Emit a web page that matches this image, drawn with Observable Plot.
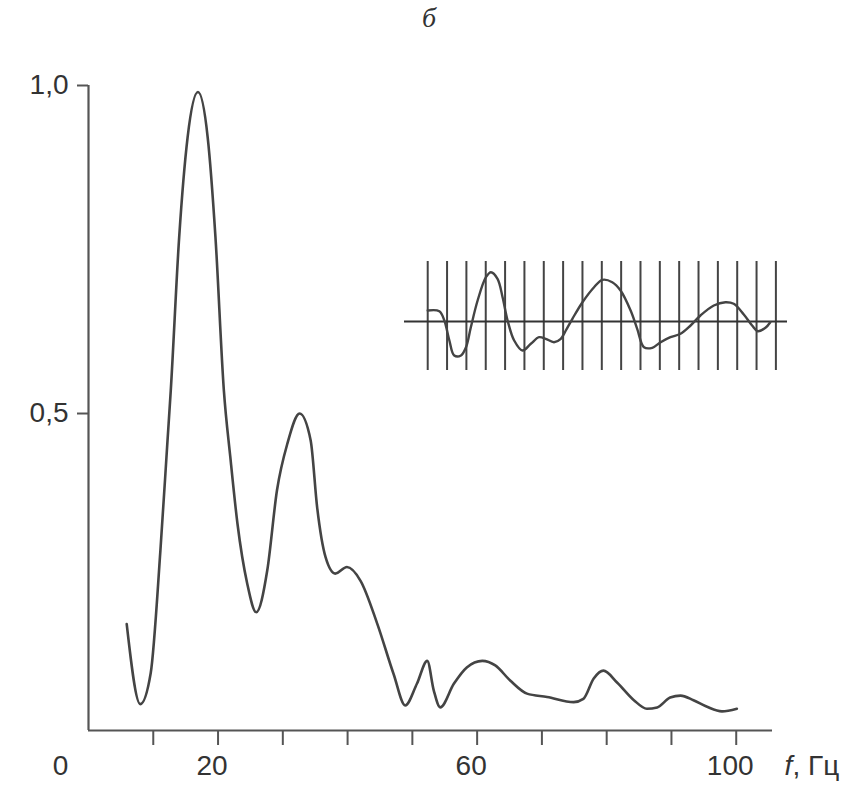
<!DOCTYPE html>
<html>
<head>
<meta charset="utf-8">
<script src="https://cdn.jsdelivr.net/npm/d3@7"></script>
<script src="https://cdn.jsdelivr.net/npm/@observablehq/plot@0.6"></script>
<style>
  html, body { margin: 0; padding: 0; background: #fff; }
  #wrap { position: relative; width: 854px; height: 785px; }
  #title { position: absolute; top: 2px; left: 0; width: 854px; text-align: center; font: italic 28px "Liberation Serif", "DejaVu Serif", serif; color: #333; padding-left: 4px; box-sizing: border-box; }
  #inset { position: absolute; left: 400px; top: 250px; }
  #main { position: absolute; left: 0; top: 0; }
</style>
</head>
<body>
<div id="wrap">
  <div id="main"></div>
  <div id="inset"></div>
  <div id="title">б</div>
</div>
<script>
// Spectrum (main curve)
const freq = [5.9, 8.0, 9.6, 11.1, 12.2, 12.7, 14.0, 15.3, 16.9, 18.4, 19.6, 20.9, 21.9, 23.0, 24.5, 25.9, 27.6, 29.1, 30.7, 32.6, 34.3, 35.3, 36.6, 38.1, 39.9, 42.0, 44.6, 47.1, 48.9, 50.7, 52.3, 53.3, 54.3, 56.4, 58.4, 60.8, 62.8, 65.1, 67.7, 70.8, 74.9, 76.4, 78.0, 79.5, 81.6, 84.2, 86.2, 87.8, 89.8, 91.4, 93.4, 95.5, 97.8, 100.1];
const power = [0.179, 0.057, 0.104, 0.291, 0.459, 0.535, 0.769, 0.921, 0.990, 0.921, 0.769, 0.535, 0.433, 0.332, 0.241, 0.197, 0.261, 0.383, 0.454, 0.500, 0.459, 0.357, 0.281, 0.256, 0.266, 0.245, 0.179, 0.103, 0.055, 0.088, 0.123, 0.078, 0.052, 0.088, 0.113, 0.123, 0.116, 0.093, 0.073, 0.068, 0.060, 0.065, 0.096, 0.108, 0.090, 0.063, 0.050, 0.052, 0.067, 0.070, 0.063, 0.053, 0.046, 0.050];

// Axis ticks and labels
const xTicks = [10, 20, 30, 40, 50, 60, 70, 80, 90, 100];
const xLabels = [20, 60, 100];
const xOrigin = [0];
const yTicks = [0.5, 1.0];
const xDomain = [0, 105.6];
const yDomain = [0.0168, 1.0];

// Inset waveform
const waveT = [0, 0.6, 0.86, 1.12, 1.37, 1.72, 1.98, 2.23, 2.58, 3.01, 3.27, 3.61, 3.87, 4.13, 4.47, 4.9, 5.33, 5.76, 6.1, 6.53, 6.88, 7.14, 7.48, 8.0, 8.6, 9.03, 9.54, 9.97, 10.49, 10.83, 11.18, 11.61, 12.04, 12.55, 13.07, 13.59, 14.1, 14.79, 15.39, 15.82, 16.34, 16.77, 17.06, 17.46, 17.71];
const waveA = [11, 10.3, 1, -19, -34, -34, -25.7, -5.7, 21, 44.3, 49.3, 42.7, 24.3, 1, -19, -29, -22.3, -15.7, -17.3, -20.7, -17.3, -9, 2.7, 19.3, 34.3, 41.7, 39.3, 31, 11, -7.3, -25.7, -26.3, -20.7, -15.7, -12.3, -4, 6, 16, 19.3, 17.7, 7, -4, -9.7, -6.3, -0.7];
const gridT = [0, 1, 2, 3, 4, 5, 6, 7, 8, 9, 10, 11, 12, 13, 14, 15, 16, 17, 18];
const gridTop = 60, gridBottom = -49;
const insetX = [-1.2, 18.6];

const spectrum = freq.map((f, i) => ({f, p: power[i]}));
const wave = waveT.map((t, i) => ({t, a: waveA[i]}));

const ink = "#444";
const axisInk = "#555";
const font = '"Liberation Sans", Arial, sans-serif';

const main = Plot.plot({
  width: 854,
  height: 785,
  marginLeft: 88,
  marginRight: 82,
  marginTop: 85,
  marginBottom: 55,
  x: {type: "linear", domain: xDomain, axis: null},
  y: {type: "linear", domain: yDomain, axis: null},
  style: {fontFamily: font, fontSize: "28px", color: "#333", background: "transparent"},
  marks: [
    Plot.axisY({ticks: yTicks, tickSize: 11, tickPadding: 9, tickFormat: d => d.toFixed(1).replace(".", ","), stroke: axisInk, strokeWidth: 2, fill: "#333", label: null}),
    Plot.axisX({ticks: xTicks, tickSize: 15, tickFormat: () => "", stroke: axisInk, strokeWidth: 2, label: null}),
    Plot.ruleX(xOrigin, {y1: () => yDomain[0], y2: () => yDomain[1], stroke: axisInk, strokeWidth: 2.2}),
    Plot.ruleY([yDomain[0]], {x1: () => xDomain[0], x2: () => xDomain[1], stroke: axisInk, strokeWidth: 2.2}),
    Plot.text(xLabels, {x: d => d, y: () => yDomain[0], text: d => String(d), dy: 36, dx: -6, fill: "#333"}),
    Plot.text(xOrigin, {x: d => d, y: () => yDomain[0], text: d => String(d), dy: 36, dx: -28, fill: "#333"}),
    Plot.text(["f"], {x: () => xDomain[1], y: () => yDomain[0], text: d => d, dy: 36, dx: 12, textAnchor: "start", fontStyle: "italic", fill: "#333"}),
    Plot.text([", Гц"], {x: () => xDomain[1], y: () => yDomain[0], text: d => d, dy: 36, dx: 20, textAnchor: "start", fill: "#333"}),
    Plot.line(spectrum, {x: "f", y: "p", curve: "monotone-x", stroke: ink, strokeWidth: 2.6})
  ]
});
document.getElementById("main").appendChild(main);

const inset = Plot.plot({
  width: 400,
  height: 130,
  marginLeft: 4,
  marginRight: 13,
  marginTop: 0,
  marginBottom: 0,
  x: {type: "linear", domain: insetX, axis: null},
  y: {type: "linear", domain: [-59, 71], axis: null},
  style: {background: "transparent"},
  marks: [
    Plot.ruleX(gridT, {y1: () => gridBottom, y2: () => gridTop, stroke: ink, strokeWidth: 2}),
    Plot.ruleY([0], {x1: () => insetX[0], x2: () => insetX[1], stroke: "#333", strokeWidth: 2.2}),
    Plot.line(wave, {x: "t", y: "a", curve: "catmull-rom", stroke: ink, strokeWidth: 2.4})
  ]
});
document.getElementById("inset").appendChild(inset);
</script>
</body>
</html>
